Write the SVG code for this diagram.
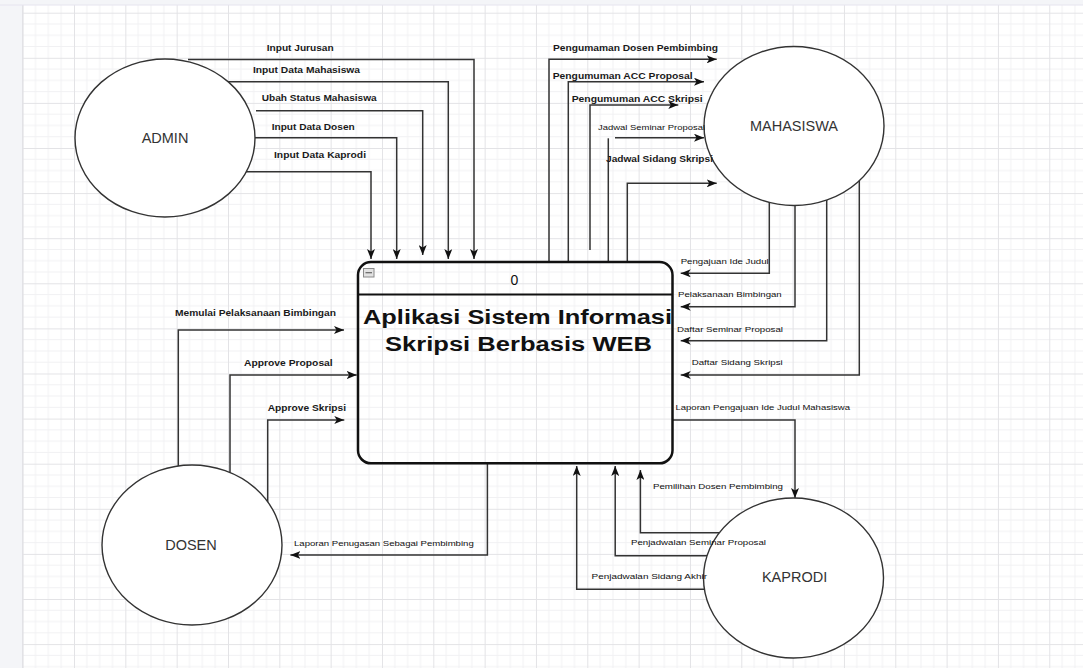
<svg xmlns="http://www.w3.org/2000/svg" width="1083" height="668" viewBox="0 0 1083 668">
  <style>
    .ln{fill:none;stroke:#333;stroke-width:1.5}
    .la{fill:none;stroke:#333;stroke-width:1.5;marker-end:url(#ah)}
    .lb{font-family:"Liberation Sans",Arial,sans-serif;font-size:9.5px;font-weight:bold;fill:#1a1a1a}
    .ls{font-family:"Liberation Sans",Arial,sans-serif;font-size:7.5px;fill:#111}
    .nd{fill:#fff;stroke:#333;stroke-width:1.4}
    .nt{font-family:"Liberation Sans",Arial,sans-serif;font-size:14.5px;fill:#333;text-anchor:middle}
  </style>
  <defs>
    <pattern id="grid" patternUnits="userSpaceOnUse" x="22.67" y="12.7" width="51.33" height="45.1">
      <path d="M12.83,0V45.1M25.67,0V45.1M38.5,0V45.1M0,11.28H51.33M0,22.55H51.33M0,33.83H51.33" stroke="#f1f1f3" stroke-width="1" fill="none"/>
      <path d="M0.5,0V45.1M0,0.5H51.33" stroke="#e3e3e6" stroke-width="1" fill="none"/>
    </pattern>
    <marker id="ah" viewBox="0 0 10 8" refX="10" refY="4" markerWidth="10" markerHeight="8" orient="auto" markerUnits="userSpaceOnUse">
      <path d="M0,0 L10,4 L0,8 L2.5,4 z" fill="#111"/>
    </marker>
  </defs>

  <rect x="0" y="0" width="1083" height="668" fill="#f4f5f8"/>
  <rect x="22" y="5" width="1061" height="663" fill="#fff"/>
  <rect x="22" y="5" width="1061" height="663" fill="url(#grid)"/>
  <line x1="22.5" y1="5" x2="22.5" y2="668" stroke="#e2e2e6"/>
  <line x1="0" y1="5" x2="1083" y2="5" stroke="#e6e4ef"/>

  <g id="connectors">
    <path class="la" d="M188,59.5 H474 V259"/>
    <path class="la" d="M225,81.7 H448.3 V259"/>
    <path class="la" d="M256,110.7 H422.7 V255"/>
    <path class="la" d="M250,137.7 H396.7 V259"/>
    <path class="la" d="M242,171.7 H371 V259"/>
    <path class="la" d="M549,262 V59.3 H716.7"/>
    <path class="la" d="M568.3,262 V81.7 H704"/>
    <path class="la" d="M590,250 V105 H678.3"/>
    <path class="ln" d="M608.3,262 V138.3"/>
    <path class="la" d="M615,137.7 H704"/>
    <path class="la" d="M627.3,262 V183.3 H716.7"/>
    <path class="la" d="M769.3,200 V273.3 H680.7"/>
    <path class="la" d="M795,200 V306.7 H680.7"/>
    <path class="la" d="M826.7,200 V340.7 H680.7"/>
    <path class="la" d="M859.3,178 V375 H680.7"/>
    <path class="la" d="M178.3,470 V330 H344"/>
    <path class="la" d="M230,476 V375 H356.7"/>
    <path class="la" d="M267.7,505 V420 H344.3"/>
    <path class="la" d="M487.4,463.3 V555 H290.4"/>
    <path class="la" d="M672.7,420 H795 V498"/>
    <path class="la" d="M740,532.7 H640.4 V470"/>
    <path class="la" d="M740,555.7 H615.2 V466"/>
    <path class="la" d="M740,589.3 H576.7 V466"/>
  </g>

  <g id="admin">
    <ellipse class="nd" cx="165" cy="138" rx="90" ry="79"/>
    <text class="nt" x="165" y="142.7">ADMIN</text>
  </g>
  <g id="mahasiswa">
    <ellipse class="nd" cx="794" cy="126" rx="90" ry="79.5"/>
    <text class="nt" x="794" y="130.7">MAHASISWA</text>
  </g>
  <g id="dosen">
    <ellipse class="nd" cx="192" cy="545" rx="90" ry="80"/>
    <text class="nt" x="191" y="550">DOSEN</text>
  </g>
  <g id="kaprodi">
    <ellipse class="nd" cx="793.5" cy="578" rx="90" ry="80"/>
    <text class="nt" x="794.6" y="581.7">KAPRODI</text>
  </g>

  <g id="process">
    <rect x="358" y="262" width="314.5" height="201.3" rx="13" fill="none" stroke="#111" stroke-width="2.5"/>
    <line x1="358" y1="294.5" x2="672.5" y2="294.5" stroke="#111" stroke-width="2"/>
    <rect x="363.5" y="268.5" width="10.5" height="8.5" fill="#e2e2e2" stroke="#8a8a8a" stroke-width="1"/>
    <line x1="365.5" y1="272.7" x2="372" y2="272.7" stroke="#666" stroke-width="1.2"/>
    <text x="514.5" y="285" font-family="'Liberation Sans',Arial,sans-serif" font-size="14" fill="#111" text-anchor="middle">0</text>
    <text x="363" y="324" font-family="'Liberation Sans',Arial,sans-serif" font-size="20" font-weight="bold" fill="#111" textLength="309" lengthAdjust="spacingAndGlyphs">Aplikasi Sistem Informasi</text>
    <text x="385" y="350.7" font-family="'Liberation Sans',Arial,sans-serif" font-size="20" font-weight="bold" fill="#111" textLength="267" lengthAdjust="spacingAndGlyphs">Skripsi Berbasis WEB</text>
  </g>

  <g id="connector-labels">
    <text class="lb" x="266.7" y="50.7" textLength="67" lengthAdjust="spacingAndGlyphs">Input Jurusan</text>
    <text class="lb" x="253" y="73.3" textLength="107" lengthAdjust="spacingAndGlyphs">Input Data Mahasiswa</text>
    <text class="lb" x="261.7" y="101" textLength="115" lengthAdjust="spacingAndGlyphs">Ubah  Status Mahasiswa</text>
    <text class="lb" x="271.7" y="130" textLength="83" lengthAdjust="spacingAndGlyphs">Input Data Dosen</text>
    <text class="lb" x="274" y="158.3" textLength="92" lengthAdjust="spacingAndGlyphs">Input Data Kaprodi</text>
    <text class="lb" x="553" y="50.7" textLength="165" lengthAdjust="spacingAndGlyphs">Pengumaman Dosen Pembimbing</text>
    <text class="lb" x="552.7" y="79.3" textLength="140" lengthAdjust="spacingAndGlyphs">Pengumuman ACC Proposal</text>
    <text class="lb" x="571.7" y="102.3" textLength="131" lengthAdjust="spacingAndGlyphs">Pengumuman ACC Skripsi</text>
    <text class="ls" x="598" y="130" textLength="107" lengthAdjust="spacingAndGlyphs">Jadwal Seminar Proposal</text>
    <text class="lb" x="606" y="161.7" textLength="107" lengthAdjust="spacingAndGlyphs">Jadwal Sidang Skripsi</text>
    <text class="ls" x="680.7" y="264" textLength="88" lengthAdjust="spacingAndGlyphs">Pengajuan Ide Judul</text>
    <text class="ls" x="678" y="296.7" textLength="103.7" lengthAdjust="spacingAndGlyphs">Pelaksanaan Bimbingan</text>
    <text class="ls" x="677" y="331.7" textLength="106" lengthAdjust="spacingAndGlyphs">Daftar Seminar Proposal</text>
    <text class="ls" x="691.7" y="365" textLength="91" lengthAdjust="spacingAndGlyphs">Daftar Sidang Skripsi</text>
    <text class="lb" x="175" y="315.7" textLength="161" lengthAdjust="spacingAndGlyphs">Memulai Pelaksanaan Bimbingan</text>
    <text class="lb" x="244" y="366" textLength="88.7" lengthAdjust="spacingAndGlyphs">Approve Proposal</text>
    <text class="lb" x="267.7" y="411" textLength="78.3" lengthAdjust="spacingAndGlyphs">Approve Skripsi</text>
    <text class="ls" x="294" y="545.7" textLength="179.7" lengthAdjust="spacingAndGlyphs">Laporan Penugasan Sebagai Pembimbing</text>
    <text class="ls" x="675.5" y="410" textLength="174.5" lengthAdjust="spacingAndGlyphs">Laporan Pengajuan Ide Judul Mahasiswa</text>
    <text class="ls" x="653" y="489.3" textLength="130" lengthAdjust="spacingAndGlyphs">Pemilihan Dosen Pembimbing</text>
    <text class="ls" x="631" y="545" textLength="135" lengthAdjust="spacingAndGlyphs">Penjadwalan Seminar  Proposal</text>
    <text class="ls" x="591.5" y="579" textLength="115.5" lengthAdjust="spacingAndGlyphs">Penjadwalan Sidang Akhir</text>
  </g>
</svg>
